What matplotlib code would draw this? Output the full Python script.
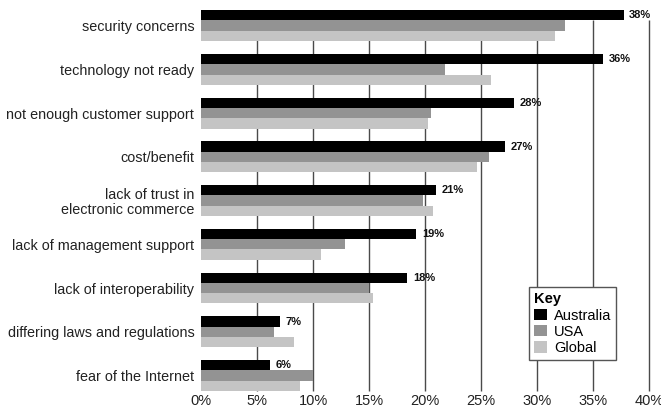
import numpy as np
import matplotlib
matplotlib.use("Agg")
import matplotlib.pyplot as plt

plt.rcParams["font.family"] = ["Liberation Sans", "DejaVu Sans"]

# data
categories = [
    "security concerns",
    "technology not ready",
    "not enough customer support",
    "cost/benefit",
    "lack of trust in\nelectronic commerce",
    "lack of management support",
    "lack of interoperability",
    "differing laws and regulations",
    "fear of the Internet",
]
australia = [37.7, 35.9, 27.9, 27.1, 21.0, 19.2, 18.4, 7.0, 6.1]
usa = [32.5, 21.8, 20.5, 25.7, 19.8, 12.8, 15.0, 6.5, 10.0]
global_ = [31.6, 25.9, 20.2, 24.6, 20.7, 10.7, 15.3, 8.3, 8.8]
aus_labels = ["38%", "36%", "28%", "27%", "21%", "19%", "18%", "7%", "6%"]
series_names = ["Australia", "USA", "Global"]
xticks = [0, 5, 10, 15, 20, 25, 30, 35, 40]

colors = ["#000000", "#939393", "#c4c4c4"]
bar_h = 0.235

fig = plt.figure(figsize=(6.61, 4.11), dpi=100)
ax = fig.add_axes([0.3045, 0.0462, 0.6778, 0.934])

y = np.arange(len(categories))

# grid lines behind the bars
ax.vlines(xticks[1:], -bar_h / 2, len(categories) - 1 + 1.5 * bar_h,
          color="#4a4a4a", linewidth=1.0, zorder=0, clip_on=False)

for k, (vals, name) in enumerate(zip([australia, usa, global_], series_names)):
    ax.barh(y + (k - 1) * bar_h, vals, height=bar_h, color=colors[k],
            label=name, zorder=2, linewidth=0)

for yi, v, lab in zip(y, australia, aus_labels):
    ax.text(v + 0.5, yi - bar_h, lab, va="center", ha="left",
            fontsize=8, fontweight="bold", color="#111111", zorder=3)

ax.set_xlim(0, 40)
ax.set_ylim(8.377, -0.4)
ax.set_xticks(xticks)
ax.set_xticklabels([f"{t}%" for t in xticks], fontsize=10.5, color="#222222")
ax.set_yticks(y)
ax.set_yticklabels(categories, fontsize=10.4, color="#222222", linespacing=1.05)
ax.tick_params(axis="both", length=0)
ax.tick_params(axis="y", pad=5)
ax.tick_params(axis="x", pad=1.5)
for s in ax.spines.values():
    s.set_visible(False)

leg = ax.legend(loc="upper left", bbox_to_anchor=(0.7315, 0.273),
                bbox_transform=ax.transAxes, borderaxespad=0,
                title="Key", alignment="left", fontsize=10.5,
                title_fontproperties={"weight": "bold", "size": 10.5},
                frameon=True, fancybox=False, handlelength=0.85,
                handleheight=0.85, handletextpad=0.5, labelspacing=0.15,
                borderpad=0.35)
leg.get_frame().set_edgecolor("#555555")
leg.get_frame().set_linewidth(1.0)
leg.get_frame().set_alpha(1)

fig.savefig("out.png", dpi=100)
